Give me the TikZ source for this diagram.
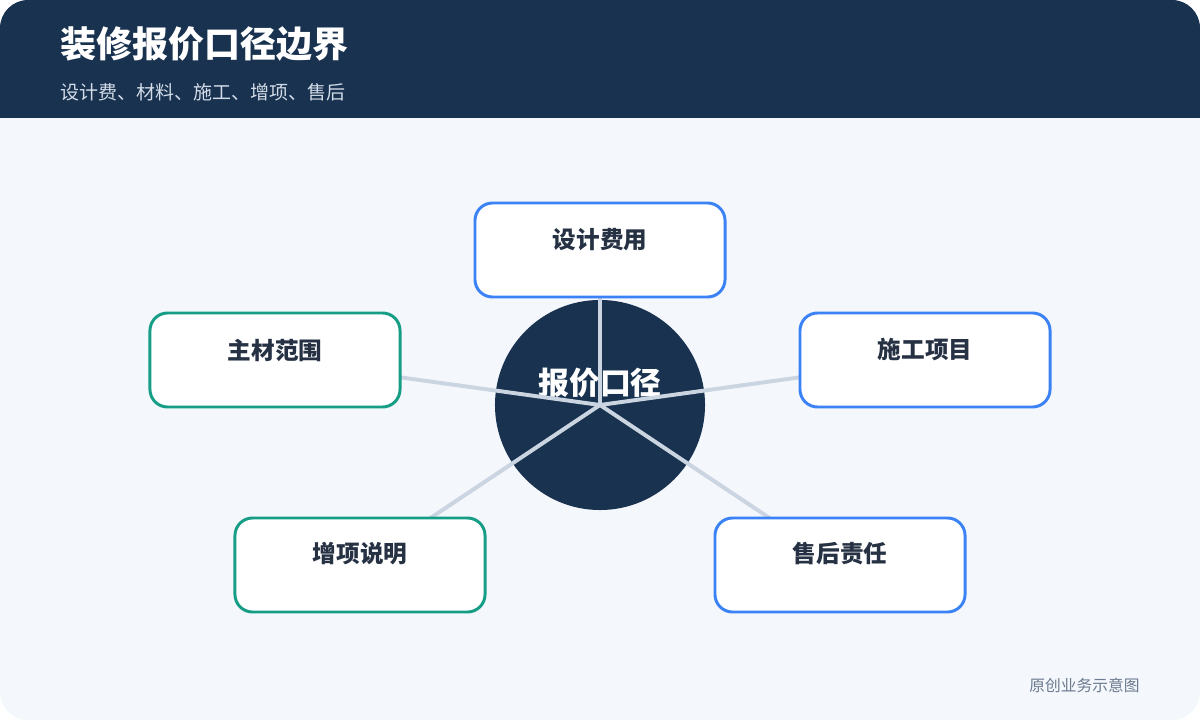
\documentclass[tikz,border=0pt]{standalone}
\usepackage{fontspec}
\setmainfont{Noto Sans CJK SC}
\usepackage{xcolor}
\usetikzlibrary{positioning}
\definecolor{navy}{HTML}{18324F}
\definecolor{pagebg}{HTML}{F4F7FB}
\definecolor{bluebd}{HTML}{3B82F6}
\definecolor{tealbd}{HTML}{169D86}
\definecolor{spoke}{HTML}{CBD5E1}
\definecolor{ink}{HTML}{263244}
\definecolor{subtxt}{HTML}{D3DCE8}
\definecolor{foot}{HTML}{6B7A90}
\pgfdeclarelayer{bg}
\pgfdeclarelayer{mid}
\pgfsetlayers{bg,mid,main}
\tikzset{
  card/.style={draw, line width=2.1pt, fill=white, rounded corners=12.5pt,
    minimum width=6.25cm, minimum height=2.35cm, inner sep=0pt},
  bluecard/.style={card, draw=bluebd},
  tealcard/.style={card, draw=tealbd},
  cardtxt/.style={text=ink, font=\fontsize{16.8}{18}\selectfont\bfseries, inner sep=0pt},
  spokeline/.style={draw=spoke, line width=2.8pt},
}

\begin{document}
\begin{tikzpicture}[x=0.025cm, y=-0.025cm]
\useasboundingbox (0,0) rectangle (1200,720);
\begin{pgfonlayer}{bg}
  \fill[pagebg, rounded corners=20pt] (0,0) rectangle (1200,720);
  \begin{scope}
    \clip[rounded corners=20pt] (0,0) rectangle (1200,720);
    \fill[navy] (0,0) rectangle (1200,118);
  \end{scope}
  \node[anchor=west, text=white, inner sep=0pt, font=\fontsize{25.6}{28}\selectfont\bfseries] (title) at (60,44) {装修报价口径边界};
  \node[anchor=west, text=subtxt, inner sep=0pt, font=\fontsize{13.5}{15}\selectfont] (sub) at (60,92) {设计费、材料、施工、增项、售后};
  \node[anchor=east, text=foot, inner sep=0pt, font=\fontsize{11.2}{13}\selectfont] (note) at (1140,685) {原创业务示意图};
  % centre
  \node[circle, fill=navy, minimum size=5.25cm, inner sep=0pt] (hub) at (600,405) {};
  \node[text=white, inner sep=0pt, font=\fontsize{22}{24}\selectfont\bfseries] (hubtxt) at (600,383) {报价口径};
\end{pgfonlayer}

% boxes
\node[bluecard] (sj) at (600,250) {};
\node[tealcard] (zc) at (275,360) {};
\node[bluecard] (sg) at (925,360) {};
\node[tealcard] (zx) at (360,565) {};
\node[bluecard] (sh) at (840,565) {};

\node[cardtxt] (sjt) at (600,240) {设计费用};
\node[cardtxt] (zct) at (275,350) {主材范围};
\node[cardtxt] (sgt) at (925,350) {施工项目};
\node[cardtxt] (zxt) at (360,554) {增项说明};
\node[cardtxt] (sht) at (840,554) {售后责任};

\begin{pgfonlayer}{mid}
  \foreach \b in {sj,zc,sg,zx,sh}{
    \path[spokeline] (hub.center) -- (\b.center);
  }
\end{pgfonlayer}
\end{tikzpicture}
\end{document}
